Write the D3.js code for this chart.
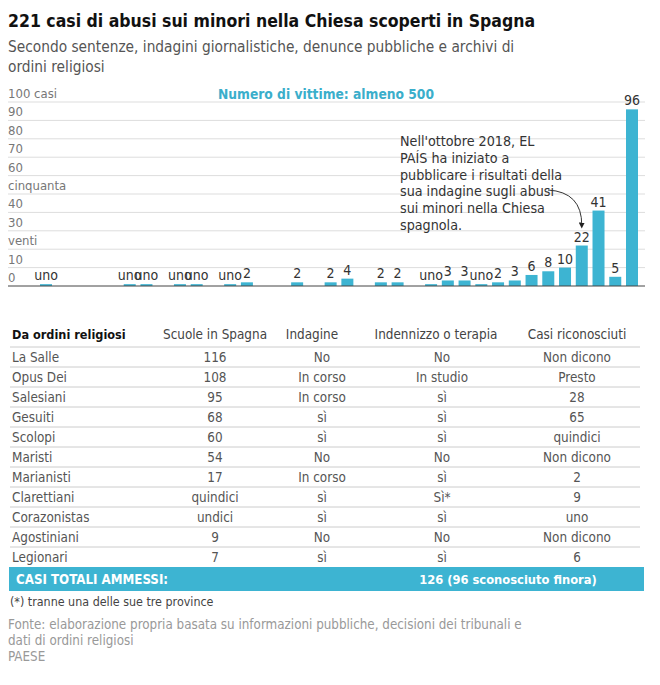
<!DOCTYPE html>
<html>
<head>
<meta charset="utf-8">
<script src="https://cdn.jsdelivr.net/npm/d3@7"></script>
<style>
  body { margin: 0; background: #fff; }
  svg text { font-family: "DejaVu Sans Condensed", "DejaVu Sans", sans-serif; }
</style>
</head>
<body>
<div id="chart"></div>
<script>
/* global d3:false */
(function() {

// chart data
var years  = [1986, 1991, 1992, 1994, 1995, 1997, 1998, 2001, 2003, 2004, 2006, 2007,
              2009, 2010, 2011, 2012, 2013, 2014, 2015, 2016, 2017, 2018, 2019, 2020, 2021];
var cases  = [1, 1, 1, 1, 1, 1, 2, 2, 2, 4, 2, 2, 1, 3, 3, 1, 2, 3, 6, 8, 10, 22, 41, 5, 96];
var tickYears  = [1986, 1988, 1990, 1992, 1994, 1996, 1998, 2000, 2002, 2004, 2006, 2008,
                  2010, 2012, 2014, 2016, 2018, 2020, 2021];
var tickLabels = ["86", "88", "90", "92", "94", "96", "98", "00", "02", "04", "06", "08",
                  "10", "12", "14", "16", "18", "venti", "ventuno"];
var yTicks      = [0, 10, 20, 30, 40, 50, 60, 70, 80, 90, 100];
var yTickLabels = ["0", "10", "venti", "30", "40", "cinquanta", "60", "70", "80", "90", "100 casi"];
var noteLines = ["Nell'ottobre 2018, EL", "PAÍS ha iniziato a", "pubblicare i risultati della",
                 "sua indagine sugli abusi", "sui minori nella Chiesa", "spagnola."];

// table data
var columns  = ["Da ordini religiosi", "Scuole in Spagna", "Indagine", "Indennizzo o terapia", "Casi riconosciuti"];
var orders   = ["La Salle", "Opus Dei", "Salesiani", "Gesuiti", "Scolopi", "Maristi", "Marianisti",
                "Clarettiani", "Corazonistas", "Agostiniani", "Legionari"];
var schools  = ["116", "108", "95", "68", "60", "54", "17", "quindici", "undici", "9", "7"];
var inquiry  = ["No", "In corso", "In corso", "sì", "sì", "No", "In corso", "sì", "sì", "No", "sì"];
var redress  = ["No", "In studio", "sì", "sì", "sì", "No", "sì", "Sì*", "sì", "No", "sì"];
var admitted = ["Non dicono", "Presto", "28", "65", "quindici", "Non dicono", "2", "9", "uno", "Non dicono", "6"];
var totalLabel = "CASI TOTALI AMMESSI:";
var totalValue = "126 (96 sconosciuto finora)";

var W = 660, H = 685;
var blue = "#3db4d2";

var svg = d3.select("#chart").append("svg")
  .attr("width", W)
  .attr("height", H);

/* Titles */
svg.append("text").attr("x", 8).attr("y", 27)
  .style("font-size", "17.5px").style("font-weight", "bold").style("fill", "#111")
  .text("221 casi di abusi sui minori nella Chiesa scoperti in Spagna");
svg.append("text").attr("x", 8).attr("y", 52)
  .style("font-size", "15.3px").style("fill", "#555")
  .text("Secondo sentenze, indagini giornalistiche, denunce pubbliche e archivi di");
svg.append("text").attr("x", 8).attr("y", 72)
  .style("font-size", "15.3px").style("fill", "#555")
  .text("ordini religiosi");

/* Bar chart */
var x = d3.scaleLinear().domain([1986, 2021]).range([46, 632]);
var y = d3.scaleLinear().domain([0, 100]).range([286, 102]);
var barW = 12;

var grid = svg.append("g");
grid.selectAll("line").data(yTicks.slice(1)).enter().append("line")
  .attr("x1", 8).attr("x2", 645)
  .attr("y1", function(d) { return y(d); })
  .attr("y2", function(d) { return y(d); })
  .style("stroke", "#ddd");
grid.selectAll("text").data(yTicks).enter().append("text")
  .attr("x", 8)
  .attr("y", function(d) { return y(d) - 4; })
  .style("font-size", "13px").style("fill", "#777")
  .text(function(d, i) { return yTickLabels[i]; });

svg.append("text").attr("x", 326).attr("y", 99)
  .attr("text-anchor", "middle")
  .style("font-size", "13.7px").style("font-weight", "bold").style("fill", "#3aaecb")
  .text("Numero di vittime: almeno 500");

svg.selectAll("rect.bar").data(years).enter().append("rect")
  .attr("class", "bar")
  .attr("x", function(d) { return x(d) - barW / 2; })
  .attr("width", barW)
  .attr("y", function(d, i) { return y(cases[i]); })
  .attr("height", function(d, i) { return y(0) - y(cases[i]); })
  .style("fill", blue);

svg.selectAll("text.val").data(years).enter().append("text")
  .attr("class", "val")
  .attr("x", function(d) { return x(d); })
  .attr("y", function(d, i) { return y(cases[i]) - 4; })
  .attr("text-anchor", "middle")
  .style("font-size", "14px").style("fill", "#333")
  .text(function(d, i) { return cases[i] === 1 ? "uno" : cases[i]; });

svg.append("line").attr("x1", 8).attr("x2", 645)
  .attr("y1", y(0)).attr("y2", y(0))
  .style("stroke", "#444");

svg.append("clipPath").attr("id", "axisclip")
  .append("rect").attr("x", 0).attr("y", 280).attr("width", 646).attr("height", 40);

var xAxis = svg.append("g")
  .attr("transform", "translate(0," + y(0) + ")")
  .attr("clip-path", "url(#axisclip)")
  .call(d3.axisBottom(x)
    .tickValues(tickYears)
    .tickSize(0)
    .tickPadding(9)
    .tickFormat(function(d, i) { return tickLabels[i]; }));
xAxis.select(".domain").remove();
xAxis.selectAll("text")
  .style("font-size", "14px").style("fill", "#555")
  .style("font-family", "'DejaVu Sans Condensed', sans-serif");

/* Annotation */
svg.append("g").selectAll("text").data(noteLines).enter().append("text")
  .attr("x", 400)
  .attr("y", function(d, i) { return 146 + i * 16.8; })
  .style("font-size", "14.2px").style("fill", "#333")
  .text(function(d) { return d; });

svg.append("defs").append("marker")
  .attr("id", "arrow").attr("viewBox", "0 0 10 10")
  .attr("refX", 5).attr("refY", 5)
  .attr("markerWidth", 6).attr("markerHeight", 6)
  .attr("orient", "auto-start-reverse")
  .append("path").attr("d", "M0,0 L10,5 L0,10 z").style("fill", "#222");

var arrowPath = d3.path();
arrowPath.moveTo(548, 190);
arrowPath.quadraticCurveTo(582, 192, x(2018), y(22) - 20);
svg.append("path").attr("d", arrowPath.toString())
  .style("fill", "none").style("stroke", "#333").style("stroke-width", 1)
  .attr("marker-end", "url(#arrow)");

/* Table */
var colX      = [12, 215, 322, 442, 577];
var headX     = [12, 215, 312, 436, 577];
var tableTop  = 327;
var rowH      = 20;

var table = svg.append("g");
table.selectAll("text.head").data(columns).enter().append("text")
  .attr("class", "head")
  .attr("x", function(d, i) { return headX[i]; })
  .attr("y", tableTop + 12)
  .attr("text-anchor", function(d, i) { return i === 0 ? "start" : "middle"; })
  .style("font-size", function(d, i) { return i === 0 ? "12.6px" : "13.4px"; })
  .style("font-weight", function(d, i) { return i === 0 ? "bold" : "normal"; })
  .style("fill", function(d, i) { return i === 0 ? "#111" : "#444"; })
  .text(function(d) { return d; });

var rows = orders.map(function(o, i) {
  return [o, schools[i], inquiry[i], redress[i], admitted[i]];
});

table.selectAll("line.row").data(rows).enter().append("line")
  .attr("class", "row")
  .attr("x1", 10).attr("x2", 640)
  .attr("y1", function(d, i) { return tableTop + 20 + i * rowH; })
  .attr("y2", function(d, i) { return tableTop + 20 + i * rowH; })
  .style("stroke", "#ccc");

var rowG = table.selectAll("g.r").data(rows).enter().append("g")
  .attr("class", "r")
  .attr("transform", function(d, i) { return "translate(0," + (tableTop + 20 + i * rowH) + ")"; });
rowG.selectAll("text").data(function(d) { return d; }).enter().append("text")
  .attr("x", function(d, i) { return colX[i]; })
  .attr("y", 15)
  .attr("text-anchor", function(d, i) { return i === 0 ? "start" : "middle"; })
  .style("font-size", "13.4px").style("fill", "#555")
  .text(function(d) { return d; });

var totalY = tableTop + 20 + orders.length * rowH;
table.append("rect")
  .attr("x", 9).attr("y", totalY).attr("width", 635).attr("height", 24)
  .style("fill", blue);
table.append("text").attr("x", 16).attr("y", totalY + 17)
  .style("font-size", "13.2px").style("font-weight", "bold").style("fill", "#fff")
  .text(totalLabel);
table.append("text").attr("x", 508).attr("y", totalY + 17)
  .attr("text-anchor", "middle")
  .style("font-size", "12.8px").style("font-weight", "bold").style("fill", "#fff")
  .text(totalValue);

/* Footnotes */
svg.append("text").attr("x", 10).attr("y", 606)
  .style("font-size", "12.4px").style("fill", "#444")
  .text("(*) tranne una delle sue tre province");
var sourceLines = ["Fonte: elaborazione propria basata su informazioni pubbliche, decisioni dei tribunali e",
                   "dati di ordini religiosi", "PAESE"];
svg.append("g").selectAll("text").data(sourceLines).enter().append("text")
  .attr("x", 8)
  .attr("y", function(d, i) { return 629 + i * 16; })
  .style("font-size", "13.3px").style("fill", "#999")
  .text(function(d) { return d; });

})();
</script>
</body>
</html>
